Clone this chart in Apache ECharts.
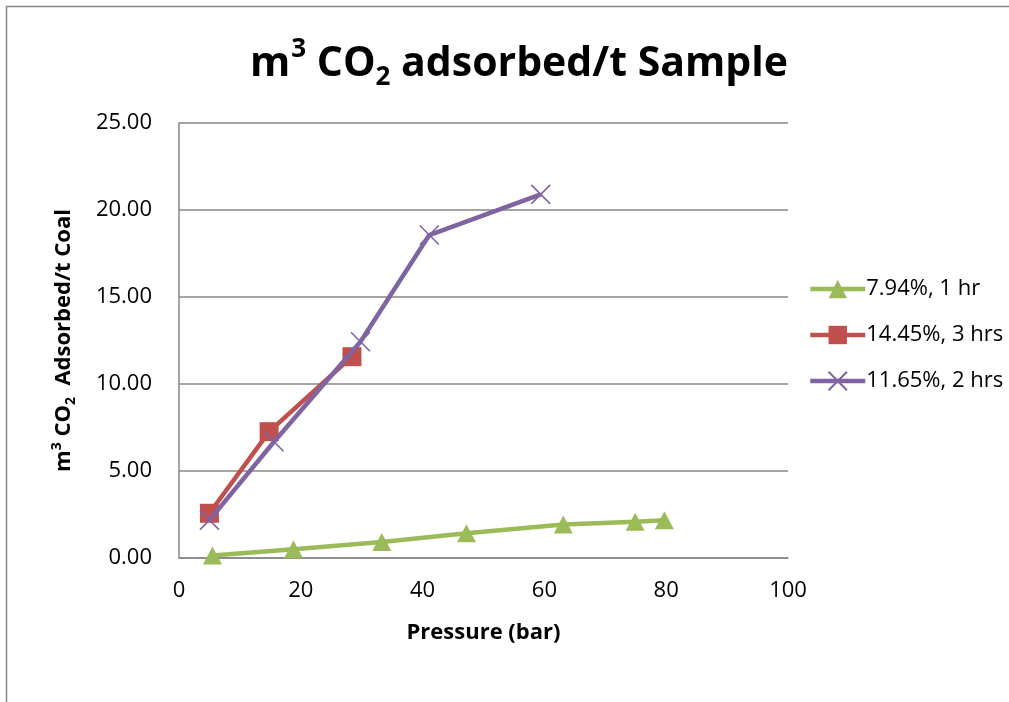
<!DOCTYPE html>
<html>
<head>
<meta charset="utf-8">
<script src="https://cdn.jsdelivr.net/npm/echarts@6/dist/echarts.min.js"></script>
<style>
  html, body { margin: 0; padding: 0; background: #fff; }
  #chart { width: 1009px; height: 702px; }
</style>
</head>
<body>
<div id="chart"></div>
<script>
// CO2 adsorption isotherms: pressure (bar) vs m3 CO2 adsorbed per tonne of coal
const seriesNames = ['7.94%, 1 hr', '14.45%, 3 hrs', '11.65%, 2 hrs'];

const pressure1hr = [5.5, 18.8, 33.3, 47.2, 63.1, 74.9, 79.7];
const adsorbed1hr = [0.15, 0.50, 0.92, 1.42, 1.93, 2.08, 2.17];

const pressure3hrs = [5.0, 14.8, 28.4];
const adsorbed3hrs = [2.57, 7.26, 11.57];

const pressure2hrs = [5.0, 15.6, 29.8, 41.1, 59.4];
const adsorbed2hrs = [2.18, 6.68, 12.43, 18.56, 20.90];

const xTicks = { min: 0, max: 100, interval: 20 };
const yTicks = { min: 0, max: 25, interval: 5 };

const pair = (xs, ys) => xs.map((x, i) => [x, ys[i]]);

const FONT = '"Open Sans", "Liberation Sans", sans-serif';
const GRID_GREY = '#868686';

const chart = echarts.init(document.getElementById('chart'), null, { renderer: 'canvas' });

chart.setOption({
  backgroundColor: '#ffffff',
  animation: false,
  textStyle: { fontFamily: FONT, color: '#000' },
  title: {
    text: '{a|m}{sup|3}{a| CO}{sub|2}{a| adsorbed/t Sample}',
    left: 514,
    top: 32,
    textAlign: 'center',
    textStyle: {
      rich: {
        a: { fontFamily: FONT, fontSize: 41, fontWeight: 'bold', color: '#000', lineHeight: 54 },
        sup: { fontFamily: FONT, fontSize: 26, fontWeight: 'bold', color: '#000', lineHeight: 26, verticalAlign: 'top', padding: [0, 0, 0, 1] },
        sub: { fontFamily: FONT, fontSize: 26, fontWeight: 'bold', color: '#000', lineHeight: 26, verticalAlign: 'bottom' }
      }
    }
  },
  graphic: [{
    type: 'rect',
    shape: { x: 6.5, y: 6.5, width: 1100, height: 800 },
    style: { fill: 'none', stroke: GRID_GREY, lineWidth: 1.5 },
    silent: true,
    z: -10
  }],
  legend: {
    orient: 'vertical',
    left: 803,
    top: 273,
    itemWidth: 55,
    itemHeight: 23,
    itemGap: 24,
    lineStyle: { width: 4.5 },
    textStyle: { fontFamily: FONT, fontSize: 22, color: '#000', padding: [0, 0, 0, -4] },
    data: seriesNames
  },
  grid: { left: 179, right: 221, top: 123, bottom: 144, containLabel: false },
  xAxis: {
    type: 'value',
    min: xTicks.min, max: xTicks.max, interval: xTicks.interval,
    name: 'Pressure (bar)',
    nameLocation: 'middle',
    nameGap: 64,
    nameTextStyle: { fontFamily: FONT, fontSize: 22, fontWeight: 'bold', color: '#000' },
    axisLine: { show: true, lineStyle: { color: GRID_GREY, width: 1.5 } },
    axisTick: { show: false },
    splitLine: { show: false },
    axisLabel: { fontFamily: FONT, fontSize: 22, color: '#000', margin: 22 }
  },
  yAxis: {
    type: 'value',
    min: yTicks.min, max: yTicks.max, interval: yTicks.interval,
    name: '{a|m}{sup|3}{a| CO}{sub|2}{a|  Adsorbed/t Coal}',
    nameLocation: 'middle',
    nameRotate: 90,
    nameGap: 101,
    nameTextStyle: {
      rich: {
        a: { fontFamily: FONT, fontSize: 22, fontWeight: 'bold', color: '#000', lineHeight: 28 },
        sup: { fontFamily: FONT, fontSize: 14, fontWeight: 'bold', color: '#000', lineHeight: 14, verticalAlign: 'top' },
        sub: { fontFamily: FONT, fontSize: 14, fontWeight: 'bold', color: '#000', lineHeight: 14, verticalAlign: 'bottom' }
      }
    },
    axisLine: { show: true, lineStyle: { color: GRID_GREY, width: 1.5 } },
    axisTick: { show: false },
    splitLine: { show: true, lineStyle: { color: GRID_GREY, width: 1.5 } },
    axisLabel: {
      fontFamily: FONT, fontSize: 22, color: '#000', margin: 27,
      formatter: v => v.toFixed(2)
    }
  },
  series: [
    {
      name: seriesNames[0],
      type: 'line',
      data: pair(pressure1hr, adsorbed1hr),
      symbol: 'triangle',
      symbolSize: [19, 18],
      lineStyle: { color: '#9BBB59', width: 4.5 },
      itemStyle: { color: '#9BBB59' },
      z: 2
    },
    {
      name: seriesNames[1],
      type: 'line',
      data: pair(pressure3hrs, adsorbed3hrs),
      symbol: 'rect',
      symbolSize: 19,
      lineStyle: { color: '#C0504D', width: 4.5 },
      itemStyle: { color: '#C0504D' },
      z: 3
    },
    {
      name: seriesNames[2],
      type: 'line',
      data: pair(pressure2hrs, adsorbed2hrs),
      symbol: 'path://M0,0L10,10M10,0L0,10',
      symbolSize: 19,
      lineStyle: { color: '#8064A2', width: 4.5 },
      itemStyle: { color: '#8064A2', borderColor: '#8064A2', borderWidth: 1.6 },
      z: 4
    }
  ]
});
</script>
</body>
</html>
